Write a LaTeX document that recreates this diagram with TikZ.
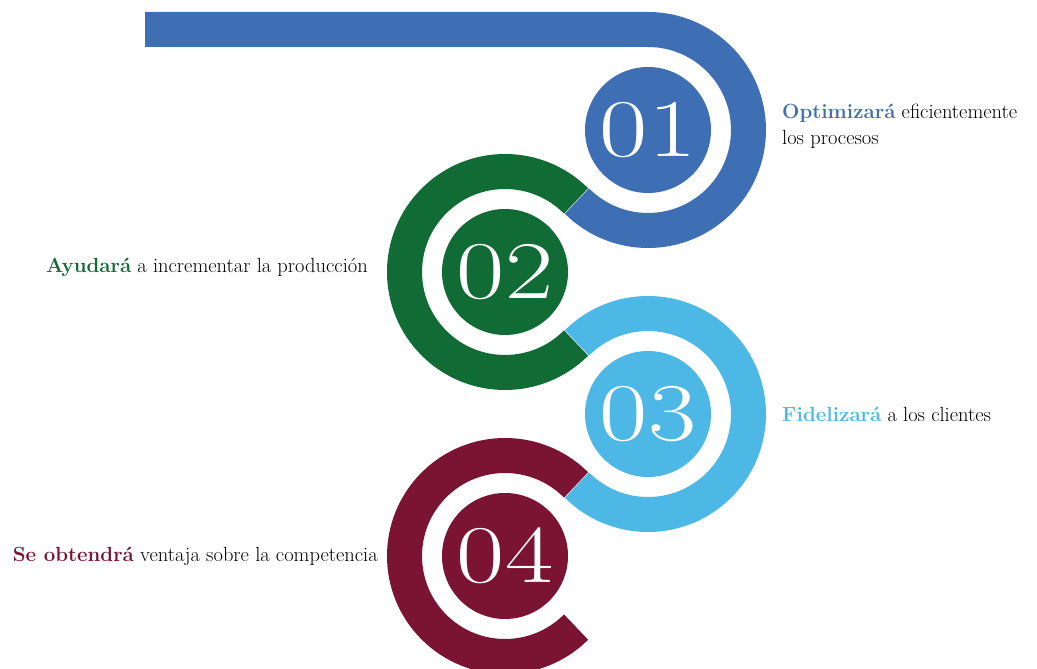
\documentclass[tikz,border=0pt]{standalone}
\usepackage{fontspec}
\usepackage{graphicx}
\definecolor{cblue}{HTML}{3E6EB4}
\definecolor{cgreen}{HTML}{116B34}
\definecolor{clight}{HTML}{4DB8E6}
\definecolor{cmaroon}{HTML}{7A1432}
\tikzset{
  band/.style={line width=35pt, line cap=butt},
  disc/.style={circle, minimum size=126pt, inner sep=0pt},
  num/.style={text=white, font=\fontsize{82}{82}\selectfont, inner sep=0pt},
  lbl/.style={font=\fontsize{20.5}{27}\selectfont, inner sep=0pt, text=black}
}
\newcommand{\widenum}[1]{\scalebox{1.28}[1]{#1}}
\begin{document}
\begin{tikzpicture}[x=1pt,y=1pt]
\useasboundingbox (0,0) rectangle (1037,669);
% centres
\coordinate (c1) at (648,539);
\coordinate (c2) at (505,397);
\coordinate (c3) at (648,255);
\coordinate (c4) at (505,113);
\coordinate (bar) at (145,639.5);
% bands
\draw[band, cblue] (bar) -- (648,639.5) arc[start angle=90, end angle=-135, radius=100.5];
\draw[band, cgreen] ([shift={(45:100.5)}]c2) arc[start angle=45, end angle=315, radius=100.5];
\draw[band, clight] ([shift={(135:100.5)}]c3) arc[start angle=135, end angle=-135, radius=100.5];
\draw[band, cmaroon] ([shift={(45:100.5)}]c4) arc[start angle=45, end angle=315, radius=100.5];
% discs
\node[disc, fill=cblue] (d1) at (c1) {};
\node[disc, fill=cgreen] (d2) at (c2) {};
\node[disc, fill=clight] (d3) at (c3) {};
\node[disc, fill=cmaroon] (d4) at (c4) {};
\node[num] (n1) at (c1) {\widenum{01}};
\node[num] (n2) at (c2) {\widenum{02}};
\node[num] (n3) at (c3) {\widenum{03}};
\node[num] (n4) at (c4) {\widenum{04}};
% labels
\node[lbl, anchor=base west] (t1a) at (782,550) {\textcolor{cblue}{\textbf{Optimizará}} eficientemente};
\node[lbl, anchor=base west] (t1b) at (782,524) {los procesos};
\node[lbl, anchor=base east] (t2) at (368,396) {\textcolor{cgreen}{\textbf{Ayudará}} a incrementar la producción};
\node[lbl, anchor=base west] (t3) at (782,247) {\textcolor{clight}{\textbf{Fidelizará}} a los clientes};
\node[lbl, anchor=base east] (t4) at (378,107) {\textcolor{cmaroon}{\textbf{Se obtendrá}} ventaja sobre la competencia};
\end{tikzpicture}
\end{document}
